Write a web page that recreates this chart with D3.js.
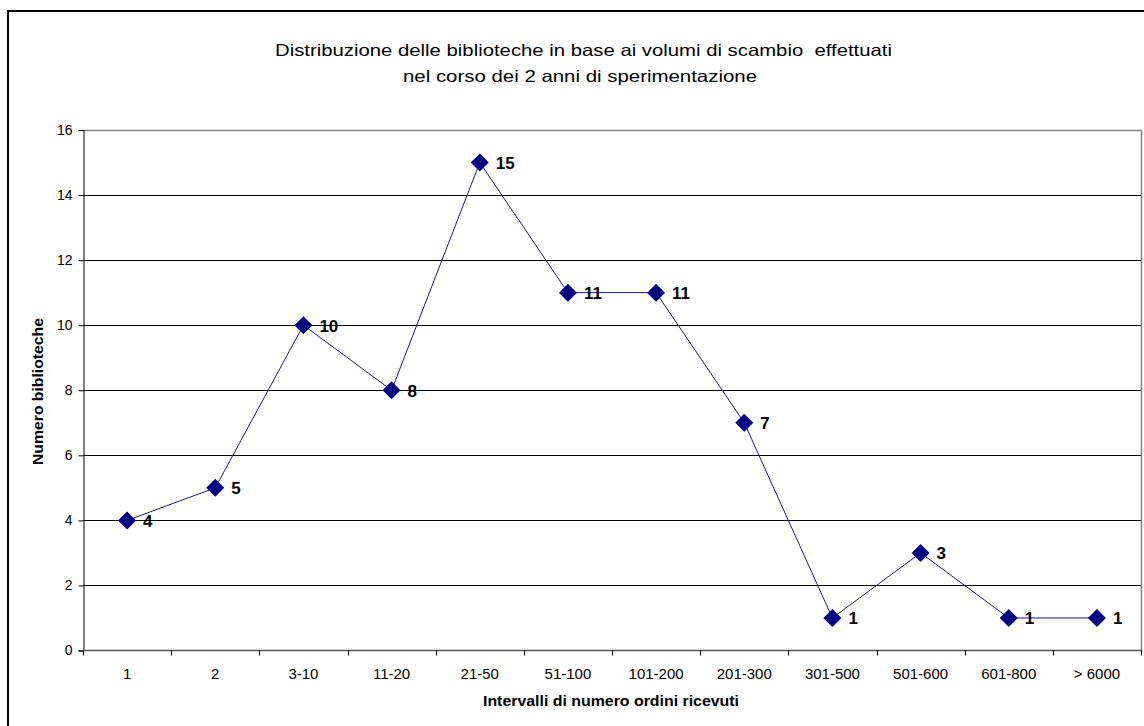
<!DOCTYPE html>
<html><head><meta charset="utf-8">
<script src="https://cdn.jsdelivr.net/npm/d3@7"></script>
<style>body{margin:0;background:#fff}svg{display:block}text{font-family:Arial,"Liberation Sans",sans-serif}</style>
</head><body>
<svg id="c" width="1144" height="726"></svg>
<script>
const categories = ["1","2","3-10","11-20","21-50","51-100","101-200","201-300","301-500","501-600","601-800","> 6000"];
const values = [4,5,10,8,15,11,11,7,1,3,1,1];
const yTicks = [0,2,4,6,8,10,12,14,16];
const titleLines = ["Distribuzione delle biblioteche in base ai volumi di scambio  effettuati","nel corso dei 2 anni di sperimentazione"];
const titleWidths = [617, 354];
const xTitle = "Intervalli di numero ordini ricevuti";
const yTitle = "Numero biblioteche";

const svg = d3.select("#c");
// outer border
svg.append("rect").attr("x",8).attr("y",11).attr("width",1150).attr("height",730)
  .attr("fill","none").attr("stroke","#000").attr("stroke-width",2);

const L=83, R=1141, T=130, B=650.5;
const x = d3.scaleBand().domain(categories).range([L,R]);
const y = d3.scaleLinear().domain([0,16]).range([B,T]);

// gridlines
svg.append("g").selectAll("line").data(yTicks.filter(d=>d>0&&d<16)).join("line")
  .attr("x1",L).attr("x2",R).attr("y1",d=>Math.round(y(d))+0.5).attr("y2",d=>Math.round(y(d))+0.5)
  .attr("stroke","#000").attr("stroke-width",1);
// plot border top/right gray
svg.append("path").attr("d",`M${L},${T+0.5}H${R+0.5}V${B}`).attr("fill","none").attr("stroke","#808080").attr("stroke-width",1.5);

// y axis
const ya = d3.axisLeft(y).tickValues(yTicks).tickSize(5).tickPadding(6);
const gy = svg.append("g").attr("transform",`translate(${L+0.5},0)`).call(ya);
gy.select(".domain").attr("stroke","#000");
gy.selectAll(".tick line").attr("stroke","#000");
gy.selectAll("text").attr("font-size",14).attr("fill","#000");

// x axis
const gx = svg.append("g").attr("transform",`translate(0,${B})`);
gx.append("line").attr("x1",L).attr("x2",R+1).attr("y1",0).attr("y2",0).attr("stroke","#555").attr("stroke-width",1.5);
const bounds = categories.map(c=>x(c)).concat([x(categories[categories.length-1])+x.bandwidth()]);
gx.selectAll("line.tk").data(bounds).join("line").attr("class","tk")
  .attr("x1",d=>Math.round(d)+0.5).attr("x2",d=>Math.round(d)+0.5).attr("y1",0).attr("y2",5).attr("stroke","#000");
gx.selectAll("text").data(categories).join("text")
  .attr("x",d=>x(d)+x.bandwidth()/2).attr("y",28.5).attr("text-anchor","middle")
  .attr("font-size",15).attr("fill","#000").style("white-space","pre").text(d=>d);

// line
const cx = d=>x(d)+x.bandwidth()/2;
svg.append("path").datum(values)
  .attr("d", d3.line().x((d,i)=>cx(categories[i])).y(d=>y(d)))
  .attr("fill","none").attr("stroke","#1a1a8c").attr("stroke-width",1);
// markers
svg.append("g").selectAll("path").data(values).join("path")
  .attr("transform",(d,i)=>`translate(${cx(categories[i])},${y(d)})`)
  .attr("d","M0,-9L9,0L0,9L-9,0Z").attr("fill","#000080");
// labels
svg.append("g").selectAll("text").data(values).join("text")
  .attr("x",(d,i)=>cx(categories[i])+16).attr("y",d=>y(d)+6.5)
  .attr("font-size",17).attr("font-weight","bold").attr("fill","#000").text(d=>d);

// titles
svg.append("g").selectAll("text").data(titleLines).join("text")
  .attr("x",(d,i)=>[275,403][i]).attr("y",(d,i)=>56+i*26)
  .attr("textLength",(d,i)=>titleWidths[i]).attr("lengthAdjust","spacingAndGlyphs")
  .attr("font-size",16.5).attr("fill","#000").style("white-space","pre").text(d=>d);
svg.append("text").attr("x",483).attr("y",706).attr("textLength",256).attr("lengthAdjust","spacingAndGlyphs")
  .attr("font-size",15).attr("font-weight","bold").text(xTitle);
svg.append("text").attr("transform","translate(43,465) rotate(-90)").attr("textLength",147).attr("lengthAdjust","spacingAndGlyphs")
  .attr("font-size",15).attr("font-weight","bold").text(yTitle);
</script>
</body></html>
